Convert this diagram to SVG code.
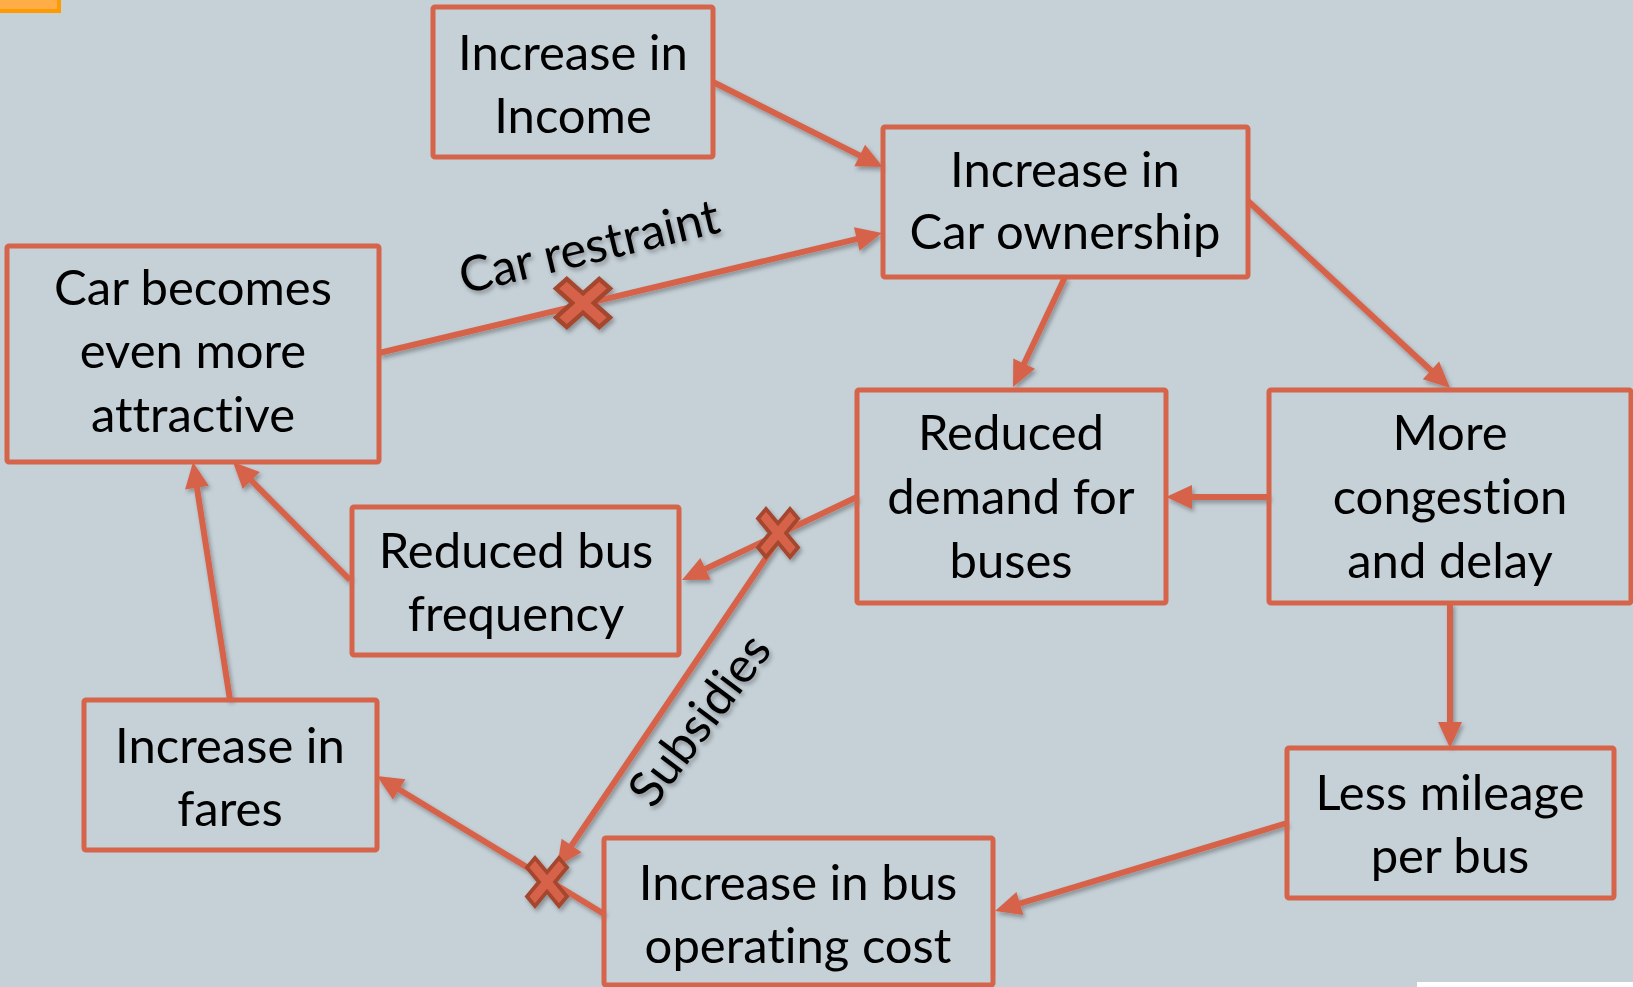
<svg xmlns="http://www.w3.org/2000/svg" width="1633" height="987" viewBox="0 0 1633 987">
<style>
.box{fill:none;stroke:#D6644A;stroke-width:5}
.t{font-family:Lato,"Open Sans","Liberation Sans",sans-serif;font-size:49px;fill:#000;text-anchor:middle;font-variant-ligatures:none;font-feature-settings:"liga" 0,"clig" 0}
.c{fill:none;stroke:#D6644A;stroke-width:6}
.x{fill:#D6644A;stroke:#A4472F;stroke-width:3.5;stroke-linejoin:miter}
</style>
<defs>
<marker id="ah" markerUnits="userSpaceOnUse" markerWidth="28" markerHeight="26" refX="16" refY="12" orient="auto" overflow="visible">
<path d="M0,0 L26,12 L0,24 z" fill="#D6644A"/>
</marker>
<filter id="sh" x="-10%" y="-10%" width="120%" height="120%">
<feDropShadow dx="2" dy="3" stdDeviation="2" flood-color="#000" flood-opacity="0.3"/>
</filter>
<polygon id="xs" points="-20,-12 -12,-20 0,-8 12,-20 20,-12 8,0 20,12 12,20 0,8 -12,20 -20,12 -8,0"/>
</defs>
<rect width="1633" height="987" fill="#C5D0D7"/>
<rect x="-10" y="-10" width="69" height="21" fill="#FFAE47" stroke="#FF9A00" stroke-width="4"/>
<rect x="1417" y="982" width="216" height="10" fill="#FFFFFF"/>

<g id="connectors" filter="url(#sh)">
<line class="c" x1="713" y1="82" x2="874" y2="162.6" marker-end="url(#ah)"/>
<line class="c" x1="379" y1="353" x2="872.3" y2="235.3" marker-end="url(#ah)"/>
<line class="c" x1="1065" y1="277" x2="1017.3" y2="378" marker-end="url(#ah)"/>
<line class="c" x1="1248" y1="201" x2="1442.7" y2="381.2" marker-end="url(#ah)"/>
<line class="c" x1="1269" y1="497" x2="1176" y2="497" marker-end="url(#ah)"/>
<line class="c" x1="857" y1="497" x2="691" y2="575.7" marker-end="url(#ah)"/>
<line class="c" x1="778" y1="540" x2="562.6" y2="858.7" marker-end="url(#ah)"/>
<line class="c" x1="1287" y1="823" x2="1004.6" y2="908.1" marker-end="url(#ah)"/>
<line class="c" x1="1450" y1="603" x2="1450" y2="738" marker-end="url(#ah)"/>
<line class="c" x1="604" y1="914" x2="385.5" y2="781.2" marker-end="url(#ah)"/>
<line class="c" x1="230" y1="700" x2="194.5" y2="471.9" marker-end="url(#ah)"/>
<line class="c" x1="350" y1="580" x2="240" y2="469.1" marker-end="url(#ah)"/>
<use href="#xs" class="x" transform="translate(583,303) scale(1.35,1.2)"/>
<use href="#xs" class="x" transform="translate(778,533) scale(1.0,1.2)"/>
<use href="#xs" class="x" transform="translate(547,882) scale(1.0,1.2)"/>
<text class="t" transform="translate(593,263) rotate(-13.5)">Car restraint</text>
<text class="t" transform="translate(713,730) rotate(-53)">Subsidies</text>
</g>

<g id="n1"><rect class="box" x="433" y="7" width="280" height="150" rx="2"/>
<text class="t" x="573" y="70">Increase in</text><text class="t" x="573" y="133">Income</text></g>
<g id="n2"><rect class="box" x="883" y="127" width="365" height="150" rx="2"/>
<text class="t" x="1065" y="187">Increase in</text><text class="t" x="1065" y="249">Car ownership</text></g>
<g id="n3"><rect class="box" x="7" y="246" width="372" height="216" rx="2"/>
<text class="t" x="193" y="305">Car becomes</text><text class="t" x="193" y="368">even more</text><text class="t" x="193" y="432">attractive</text></g>
<g id="n4"><rect class="box" x="857" y="390" width="309" height="213" rx="2"/>
<text class="t" x="1011" y="450">Reduced</text><text class="t" x="1011" y="514">demand for</text><text class="t" x="1011" y="578">buses</text></g>
<g id="n5"><rect class="box" x="1269" y="390" width="362" height="213" rx="2"/>
<text class="t" x="1450" y="450">More</text><text class="t" x="1450" y="514">congestion</text><text class="t" x="1450" y="578">and delay</text></g>
<g id="n6"><rect class="box" x="352" y="507" width="327" height="148" rx="2"/>
<text class="t" x="516" y="568">Reduced bus</text><text class="t" x="516" y="631">frequency</text></g>
<g id="n7"><rect class="box" x="84" y="700" width="293" height="150" rx="2"/>
<text class="t" x="230" y="763">Increase in</text><text class="t" x="230" y="826">fares</text></g>
<g id="n8"><rect class="box" x="1287" y="748" width="327" height="150" rx="2"/>
<text class="t" x="1450" y="810">Less mileage</text><text class="t" x="1450" y="873">per bus</text></g>
<g id="n9"><rect class="box" x="604" y="838" width="389" height="147" rx="2"/>
<text class="t" x="798" y="900">Increase in bus</text><text class="t" x="798" y="963">operating cost</text></g>
</svg>
